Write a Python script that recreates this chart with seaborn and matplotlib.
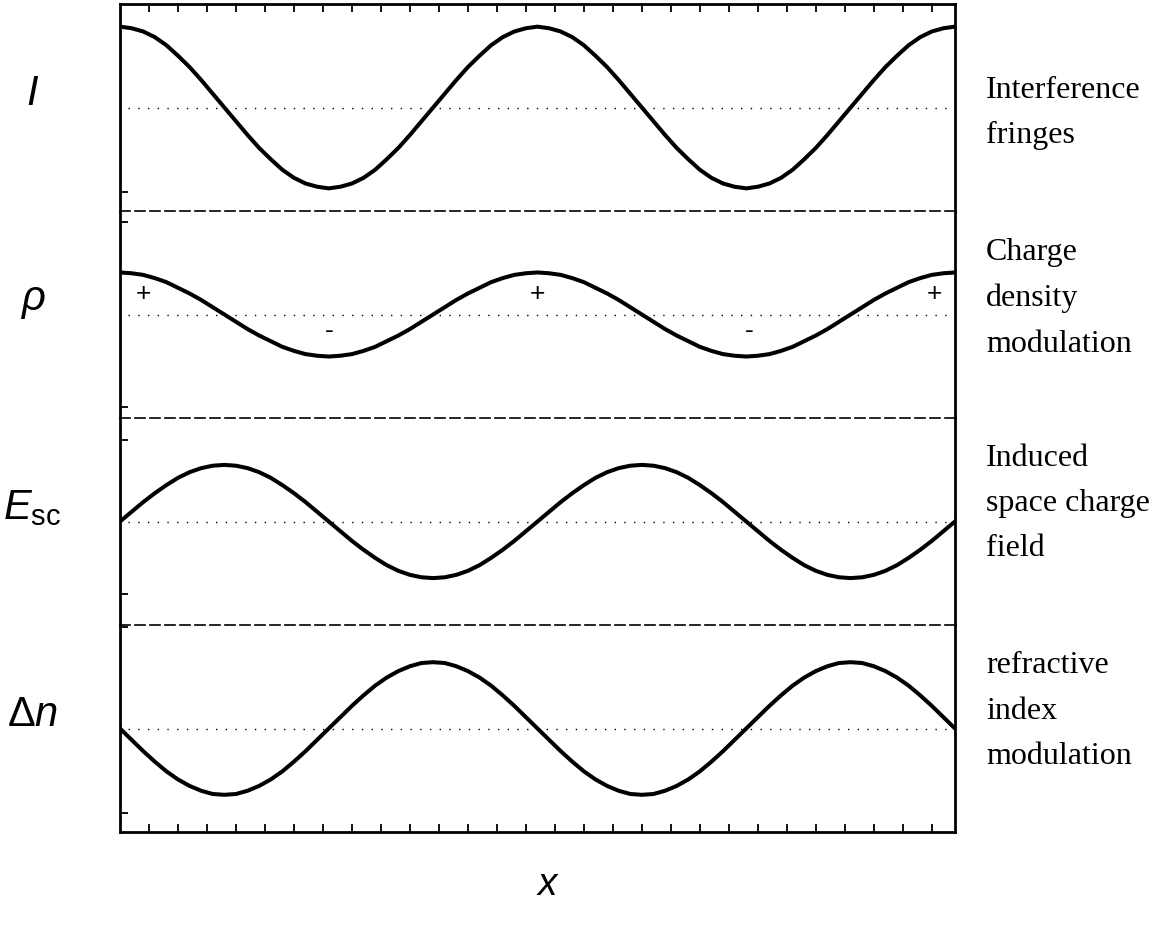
import matplotlib
matplotlib.use("Agg")
import matplotlib.pyplot as plt
import pandas as pd
import seaborn as sns

# sample positions along x (in tick units), read every 0.4 ticks
x_pos = [0.0, 0.4, 0.8, 1.2, 1.6, 2.0, 2.4, 2.8, 3.2, 3.6, 4.0, 4.4, 4.8, 5.2, 5.6, 6.0,
         6.4, 6.8, 7.2, 7.6, 8.0, 8.4, 8.8, 9.2, 9.6, 10.0, 10.4, 10.8, 11.2, 11.6, 12.0,
         12.4, 12.8, 13.2, 13.6, 14.0, 14.4, 14.8, 15.2, 15.6, 16.0, 16.4, 16.8, 17.2,
         17.6, 18.0, 18.4, 18.8, 19.2, 19.6, 20.0, 20.4, 20.8, 21.2, 21.6, 22.0, 22.4,
         22.8, 23.2, 23.6, 24.0, 24.4, 24.8, 25.2, 25.6, 26.0, 26.4, 26.8, 27.2, 27.6,
         28.0, 28.4, 28.8]

intensity = [1.00, 0.98, 0.94, 0.87, 0.77, 0.64, 0.50, 0.34, 0.17, 0.00, -0.17, -0.34,
             -0.50, -0.64, -0.77, -0.87, -0.94, -0.98, -1.00, -0.98, -0.94, -0.87, -0.77,
             -0.64, -0.50, -0.34, -0.17, 0.00, 0.17, 0.34, 0.50, 0.64, 0.77, 0.87, 0.94, 0.98,
             1.00, 0.98, 0.94, 0.87, 0.77, 0.64, 0.50, 0.34, 0.17, 0.00, -0.17, -0.34,
             -0.50, -0.64, -0.77, -0.87, -0.94, -0.98, -1.00, -0.98, -0.94, -0.87, -0.77,
             -0.64, -0.50, -0.34, -0.17, 0.00, 0.17, 0.34, 0.50, 0.64, 0.77, 0.87, 0.94, 0.98,
             1.00]

charge = [0.52, 0.51, 0.49, 0.45, 0.40, 0.33, 0.26, 0.18, 0.09, 0.00, -0.09, -0.18,
          -0.26, -0.33, -0.40, -0.45, -0.49, -0.51, -0.52, -0.51, -0.49, -0.45, -0.40,
          -0.33, -0.26, -0.18, -0.09, 0.00, 0.09, 0.18, 0.26, 0.33, 0.40, 0.45, 0.49, 0.51,
          0.52, 0.51, 0.49, 0.45, 0.40, 0.33, 0.26, 0.18, 0.09, 0.00, -0.09, -0.18,
          -0.26, -0.33, -0.40, -0.45, -0.49, -0.51, -0.52, -0.51, -0.49, -0.45, -0.40,
          -0.33, -0.26, -0.18, -0.09, 0.00, 0.09, 0.18, 0.26, 0.33, 0.40, 0.45, 0.49, 0.51,
          0.52]

field = [0.00, 0.12, 0.24, 0.35, 0.45, 0.54, 0.61, 0.66, 0.69, 0.70, 0.69, 0.66,
         0.61, 0.54, 0.45, 0.35, 0.24, 0.12, 0.00, -0.12, -0.24, -0.35, -0.45,
         -0.54, -0.61, -0.66, -0.69, -0.70, -0.69, -0.66, -0.61, -0.54, -0.45, -0.35, -0.24, -0.12,
         0.00, 0.12, 0.24, 0.35, 0.45, 0.54, 0.61, 0.66, 0.69, 0.70, 0.69, 0.66,
         0.61, 0.54, 0.45, 0.35, 0.24, 0.12, 0.00, -0.12, -0.24, -0.35, -0.45,
         -0.54, -0.61, -0.66, -0.69, -0.70, -0.69, -0.66, -0.61, -0.54, -0.45, -0.35, -0.24, -0.12,
         0.00]

index_mod = [0.00, -0.14, -0.28, -0.41, -0.53, -0.63, -0.71, -0.77, -0.81, -0.82, -0.81, -0.77,
             -0.71, -0.63, -0.53, -0.41, -0.28, -0.14, 0.00, 0.14, 0.28, 0.41, 0.53,
             0.63, 0.71, 0.77, 0.81, 0.82, 0.81, 0.77, 0.71, 0.63, 0.53, 0.41, 0.28, 0.14,
             0.00, -0.14, -0.28, -0.41, -0.53, -0.63, -0.71, -0.77, -0.81, -0.82, -0.81, -0.77,
             -0.71, -0.63, -0.53, -0.41, -0.28, -0.14, 0.00, 0.14, 0.28, 0.41, 0.53,
             0.63, 0.71, 0.77, 0.81, 0.82, 0.81, 0.77, 0.71, 0.63, 0.53, 0.41, 0.28, 0.14,
             0.00]

symbols = [r"$I$", r"$\rho$", r"$E_{\mathrm{sc}}$", r"$\Delta n$"]
descriptions = [
    ["Interference", "fringes"],
    ["Charge", "density", "modulation"],
    ["Induced", "space charge", "field"],
    ["refractive", "index", "modulation"],
]
panel_yticks = [[-1.05], [1.14, -1.15], [1.01, -0.90], [1.25, -1.04]]

plus_x = [0.8, 14.4, 28.1]
minus_x = [7.2, 21.7]

sns.set_style("white")
plt.rcParams["font.family"] = ["Liberation Sans", "DejaVu Sans"]
plt.rcParams["mathtext.fontset"] = "custom"
plt.rcParams["mathtext.rm"] = "Liberation Sans"
plt.rcParams["mathtext.it"] = "Liberation Sans:italic"
plt.rcParams["text.color"] = "black"

W, H = 1165, 929
fig, axes = plt.subplots(4, 1, figsize=(W / 100, H / 100), dpi=100, sharex=True,
                         gridspec_kw=dict(hspace=0))
fig.subplots_adjust(left=120 / W, right=955 / W, top=1 - 5 / H, bottom=1 - 833 / H)

# first-line y (pixels) of each right-hand description
desc_top = [90, 253, 458, 666]
line_gap = 45.5

series = [intensity, charge, field, index_mod]
for i, (ax, values) in enumerate(zip(axes, series)):
    df = pd.DataFrame({"x": x_pos, "y": values})
    ax.axhline(0, xmin=0.01, xmax=0.995, color="black", lw=1.0, ls=(0, (1, 6)))
    sns.lineplot(data=df, x="x", y="y", ax=ax, color="black", lw=2.9,
                 estimator=None, sort=False, solid_joinstyle="round")
    ax.set_xlim(0, 28.8)
    ax.set_ylim(-1.28, 1.28)
    ax.set_xlabel("")
    ax.set_ylabel("")

    for side in ("left", "right"):
        ax.spines[side].set_linewidth(2.0)
        ax.spines[side].set_color("black")
    if i == 0:
        ax.spines["top"].set_linewidth(2.0)
    else:
        ax.spines["top"].set_linewidth(1.2)
        ax.spines["top"].set_linestyle((0, (6, 3)))
    ax.spines["top"].set_color("black")
    if i == 3:
        ax.spines["bottom"].set_linewidth(2.0)
        ax.spines["bottom"].set_color("black")
    else:
        ax.spines["bottom"].set_visible(False)

    ax.set_xticks(range(1, 29))
    ax.tick_params(axis="x", which="both", direction="in", length=6, width=1.3,
                   color="black", bottom=(i == 3), top=(i == 0),
                   labelbottom=False, labeltop=False)
    ax.set_yticks(panel_yticks[i])
    ax.tick_params(axis="y", direction="in", length=6, width=1.3, color="black",
                   left=True, right=False, labelleft=False)

    ax.text(-0.105, 0.57, symbols[i], transform=ax.transAxes, fontsize=30,
            ha="center", va="center", color="black")

    for j, line in enumerate(descriptions[i]):
        ypix = desc_top[i] + j * line_gap
        fig.text(986 / W, 1 - ypix / H, line, fontsize=23, family="Liberation Serif",
                 ha="left", va="center", color="black")

for xp in plus_x:
    axes[1].text(xp, 0.27, "+", fontsize=19, ha="center", va="center", color="black")
for xp in minus_x:
    axes[1].text(xp, -0.19, "-", fontsize=19, ha="center", va="center", color="black")

fig.text(548 / W, 1 - 885 / H, r"$x$", fontsize=28, ha="center", va="center", color="black")

fig.savefig("out.png", dpi=100)
